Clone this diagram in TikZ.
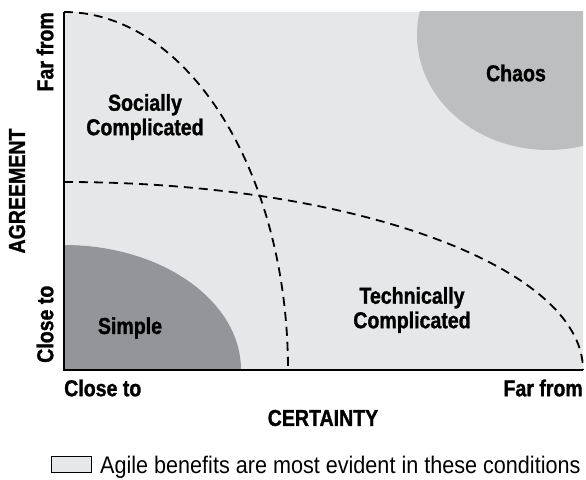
\documentclass[tikz,border=0pt]{standalone}
\usepackage{fontspec}
\setmainfont[FakeStretch=0.85, BoldFeatures={FakeBold=1.2}]{Liberation Sans}
\newfontfamily\legendfont[FakeStretch=0.9]{Liberation Sans}
\usepackage{tikz}
\usetikzlibrary{positioning}
\usepackage{xcolor}

\definecolor{bgGray}{RGB}{230,231,232}
\definecolor{chaosGray}{RGB}{188,190,192}
\definecolor{simpleGray}{RGB}{147,149,152}

\begin{document}
\begin{tikzpicture}[
    x=1pt, y=1pt,
    zone/.style={font=\bfseries\fontsize{23}{24.5}\selectfont, align=center, inner sep=0pt},
    axislabel/.style={font=\bfseries\fontsize{23}{24.5}\selectfont, inner sep=0pt},
    divider/.style={dash pattern=on 9pt off 6pt, line width=1.8pt},
    axisline/.style={line width=1.6pt},
]
\useasboundingbox (-64,-109) rectangle (522,370);

% Plot area
\coordinate (origin) at (0,0);
\coordinate (topleft) at (0,358);
\coordinate (botright) at (519,0);
\fill[bgGray] (origin) rectangle (519,358);

% Chaos blob, cut at the plot edges
\begin{scope}
  \clip (origin) rectangle (519,358);
  \fill[chaosGray] (484,335) ellipse[x radius=131, y radius=115];
\end{scope}

% Simple corner
\fill[simpleGray] (origin) -- (0,125)
    arc[start angle=90, end angle=0, x radius=177, y radius=125] -- cycle;

% Dashed boundaries
\draw[divider] (topleft) arc[start angle=90, end angle=0, x radius=224, y radius=358];
\draw[divider] (0,188) arc[start angle=90, end angle=0, x radius=519, y radius=188];

% Axes
\draw[axisline] (topleft) -- (origin) -- (botright);

% Zone labels
\node[zone] (social) at (81,253)  {Socially\\Complicated};
\node[zone] (chaos)  at (452,297) {Chaos};
\node[zone] (simple) at (66,42)   {Simple};
\node[zone] (techn)  at (348,60)  {Technically\\Complicated};

% Agreement axis
\node[axislabel, rotate=90, anchor=east] (agFar)   at (-19,358) {Far from};
\node[axislabel, rotate=90, anchor=west] (agClose) at (-19,7)   {Close to};
\node[axislabel, rotate=90] (agree) at (-47,179) {AGREEMENT};

% Certainty axis
\node[axislabel, anchor=west] (ceClose) at (0,-18)   {Close to};
\node[axislabel, anchor=east] (ceFar)   at (519,-18) {Far from};
\node[axislabel] (certain) at (259,-48) {CERTAINTY};

% Legend
\node[draw, line width=1pt, fill=bgGray, minimum width=40pt, minimum height=16pt,
      inner sep=0pt, anchor=south west] (key) at (-13,-103) {};
\node[font=\legendfont\fontsize{24}{26}\selectfont, inner sep=0pt,
      right=8pt of key.south east, anchor=base west] (keytext) {Agile benefits are most evident in these conditions};
\end{tikzpicture}
\end{document}
